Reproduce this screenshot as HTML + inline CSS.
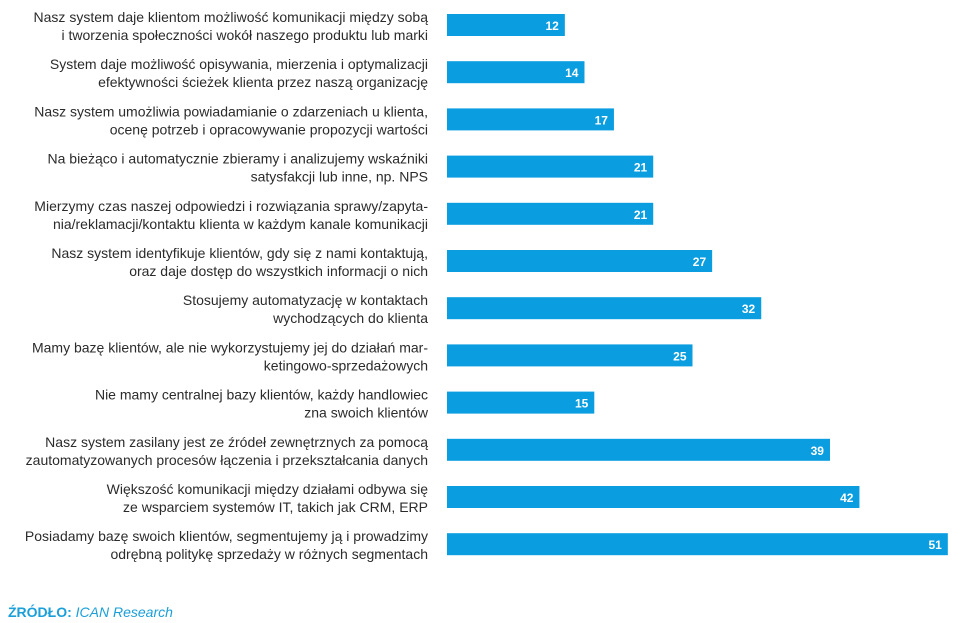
<!DOCTYPE html>
<html><head><meta charset="utf-8"><style>
body{margin:0;background:#fff;}
svg{display:block;font-family:"Liberation Sans",sans-serif;}
</style></head><body>
<svg id="chart" width="960" height="623" viewBox="0 0 960 623">
<g id="labels"></g>
<g id="bars"></g>
<text x="8" y="617" font-size="14"><tspan fill="#1a9fd9" font-weight="bold">ŹRÓDŁO:</tspan><tspan fill="#1a9fd9" font-style="italic"> ICAN Research</tspan></text>
</svg>
<script>
const categories = [
["Nasz system daje klientom możliwość komunikacji między sobą","i tworzenia społeczności wokół naszego produktu lub marki"],
["System daje możliwość opisywania, mierzenia i optymalizacji","efektywności ścieżek klienta przez naszą organizację"],
["Nasz system umożliwia powiadamianie o zdarzeniach u klienta,","ocenę potrzeb i opracowywanie propozycji wartości"],
["Na bieżąco i automatycznie zbieramy i analizujemy wskaźniki","satysfakcji lub inne, np. NPS"],
["Mierzymy czas naszej odpowiedzi i rozwiązania sprawy/zapyta-","nia/reklamacji/kontaktu klienta w każdym kanale komunikacji"],
["Nasz system identyfikuje klientów, gdy się z nami kontaktują,","oraz daje dostęp do wszystkich informacji o nich"],
["Stosujemy automatyzację w kontaktach","wychodzących do klienta"],
["Mamy bazę klientów, ale nie wykorzystujemy jej do działań mar-","ketingowo-sprzedażowych"],
["Nie mamy centralnej bazy klientów, każdy handlowiec","zna swoich klientów"],
["Nasz system zasilany jest ze źródeł zewnętrznych za pomocą","zautomatyzowanych procesów łączenia i przekształcania danych"],
["Większość komunikacji między działami odbywa się","ze wsparciem systemów IT, takich jak CRM, ERP"],
["Posiadamy bazę swoich klientów, segmentujemy ją i prowadzimy","odrębną politykę sprzedaży w różnych segmentach"]
];
const values = [12,14,17,21,21,27,32,25,15,39,42,51];

const NS="http://www.w3.org/2000/svg";
const x0=447, pxPerUnit=9.82, rowTop=14, rowStep=47.2, barH=22;
const xScale=v=>x0+v*pxPerUnit;
const yScale=i=>rowTop+i*rowStep;
const gL=document.getElementById('labels'), gB=document.getElementById('bars');
categories.forEach((lines,i)=>{
  const y=yScale(i);
  const t=document.createElementNS(NS,'text');
  
  
  t.setAttribute('text-anchor','end');
  t.setAttribute('font-size','14');
  t.setAttribute('fill','#2b2b2b');
  lines.forEach((ln,j)=>{
    const s=document.createElementNS(NS,'tspan');
    s.setAttribute('x',428);
    s.setAttribute('y',y+8+j*18);
    s.textContent=ln;
    t.appendChild(s);
  });
  gL.appendChild(t);
  const r=document.createElementNS(NS,'rect');
  
  
  r.setAttribute('x',x0);
  r.setAttribute('y',y);
  r.setAttribute('width',xScale(values[i])-x0);
  r.setAttribute('height',barH);
  r.setAttribute('fill','#0a9de0');
  gB.appendChild(r);
  const v=document.createElementNS(NS,'text');
  
  
  v.setAttribute('x',xScale(values[i])-6);
  v.setAttribute('y',y+16);
  v.setAttribute('text-anchor','end');
  v.setAttribute('font-size','12');
  v.setAttribute('font-weight','bold');
  v.setAttribute('fill','#fff');
  v.textContent=values[i];
  gB.appendChild(v);
});
</script>
</body></html>
